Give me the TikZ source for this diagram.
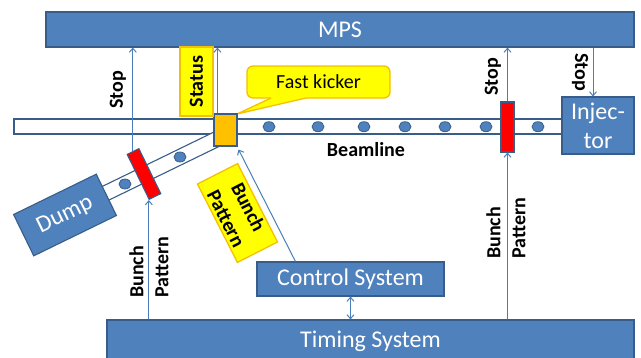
\documentclass[tikz,border=0pt]{standalone}
\usepackage{fontspec}
\setmainfont{Carlito}
\usetikzlibrary{arrows.meta,calc,shapes.geometric}
\definecolor{boxfill}{HTML}{4F81BD}
\definecolor{boxline}{HTML}{385D8A}
\definecolor{wire}{HTML}{4A7EBB}
\definecolor{tagfill}{HTML}{FFFF00}
\definecolor{tagline}{HTML}{F5C000}
\definecolor{kickfill}{HTML}{FFC000}
\newcommand{\bigtxt}{\fontsize{24}{29}\selectfont}
\newcommand{\lbltxt}{\fontsize{20}{25}\selectfont\bfseries}
\tikzset{
  sysbox/.style={draw=boxline, fill=boxfill, line width=1.1pt, text=white,
    font=\bigtxt, inner sep=0pt, align=center},
  tube/.style={draw=boxline, fill=white, line width=1.1pt},
  bunchdot/.style={ellipse, draw=boxline, fill=boxfill, line width=0.8pt,
    minimum width=12pt, minimum height=10pt, inner sep=0pt},
  stopper/.style={draw=boxline, fill=red, line width=1.1pt, inner sep=0pt,
    minimum width=13pt, minimum height=50pt},
  tagbox/.style={draw=tagline, fill=tagfill, line width=1.3pt, inner sep=0pt,
    font=\lbltxt, align=center},
  lbl/.style={font=\lbltxt, inner sep=0pt},
  sig/.style={draw=wire, line width=1pt, -{Straight Barb[length=4pt,width=7pt]}},
  sigboth/.style={draw=wire, line width=1pt,
    {Straight Barb[length=4pt,width=7pt]}-{Straight Barb[length=4pt,width=7pt]}},
}
\begin{document}
\begin{tikzpicture}[x=1pt, y=-1pt]
\useasboundingbox (0,0) rectangle (641,357);
\clip (0,0) rectangle (641,357);

% system blocks
\node[sysbox, minimum width=588pt, minimum height=35pt] (mps) at (340,29.5) {MPS};
\node[sysbox, minimum width=527pt, minimum height=43pt] (timing) at (370.5,341.5) {Timing System};
\node[sysbox, minimum width=187pt, minimum height=34pt] (ctrl) at (350.5,279) {Control System};
\node[sysbox, minimum width=72pt, minimum height=57pt] (inj) at (598,125.5) {Injec-\\tor};

% main beamline
\draw[tube] (14,119) rectangle (562,134);
\foreach \bx [count=\i] in {269,318,364,405,445,486,538}
  \node[bunchdot] (b\i) at (\bx,126.7) {};

% dump line
\draw[tube] (214,132) -- (97,189) -- (104,202.5) -- (220,146) -- cycle;
\node[bunchdot] (d1) at (180,157) {};
\node[bunchdot] (d2) at (125,184) {};
\node[sysbox, rotate=26, minimum width=92pt, minimum height=46pt] (dump) at (65,215) {Dump};

% stoppers
\node[stopper] (stopR) at (507.5,127) {};
\node[stopper, rotate=26] (stopD) at (144,174) {};

% callout for the kicker
\draw[tagline, fill=tagfill, line width=1.3pt, rounded corners=6pt] (247,66) rectangle (390,98);
\fill[tagfill] (271,96.3) -- (271,98) -- (237,114) -- (306,98) -- (306,96.3) -- cycle;
\draw[tagline, line width=1.3pt, line join=miter] (271,98) -- (237,114) -- (306,98);
\node[font=\fontsize{20}{24}\selectfont, inner sep=0pt] (fk) at (318.5,82) {Fast kicker};

% kicker
\node[draw=boxline, fill=kickfill, line width=1.1pt, inner sep=0pt,
  minimum width=23pt, minimum height=32pt] (kick) at (225.5,130) {};

% labels
\node[tagbox, rotate=90, minimum width=69pt, minimum height=33pt] (status) at (196.5,81.5) {Status};
\node[tagbox, rotate=-63, minimum width=88pt, minimum height=45pt] (bpk) at (237.5,213) {Bunch\\Pattern};
\node[lbl] (beam) at (366,150) {Beamline};
\node[lbl, rotate=90] (stopLlbl) at (118,90) {Stop};
\node[lbl, rotate=90] (stopRlbl) at (493,77) {Stop};
\node[lbl, rotate=-90] (stopIlbl) at (580,72) {Stop};
\node[lbl, rotate=90, anchor=west, align=left] (bpL) at (149,298) {Bunch\\Pattern};
\node[lbl, rotate=90, anchor=west, align=left] (bpR) at (506,259) {Bunch\\Pattern};

% signals
\draw[sig] (stopD.north) -- (stopD.north |- mps.south);
\draw[sig] (stopD.south west |- timing.north) -- (stopD.south west);
\draw[sig] ([xshift=4pt]kick.north west) -- ([xshift=4pt]kick.north west |- mps.south);
\draw[sig] (stopR.north) -- (stopR.north |- mps.south);
\draw[sig] (stopR.south |- timing.north) -- (stopR.south);
\draw[sig] ([xshift=-5pt]inj.north |- mps.south) -- ([xshift=-5pt]inj.north);
\draw[sig] ([xshift=39pt]ctrl.north west) -- ([shift={(1,3)}]kick.south east);
\draw[sigboth] (ctrl.south) -- (ctrl.south |- timing.north);
\end{tikzpicture}
\end{document}
